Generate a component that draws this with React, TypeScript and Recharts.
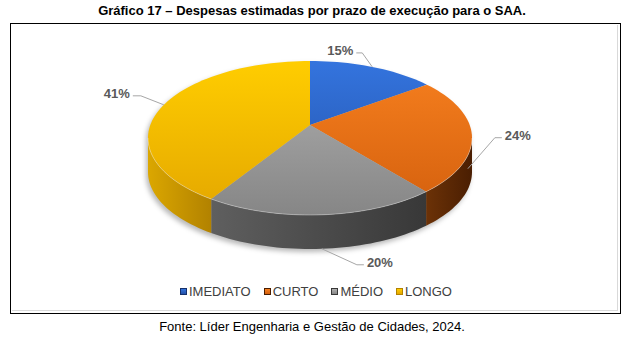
import React from "react";
import { PieChart, Pie, Cell, Legend } from "recharts";

// dados do gráfico
const categories = ["IMEDIATO", "CURTO", "MÉDIO", "LONGO"];
const shares = [15, 24, 20, 41];
const percentLabels = ["15%", "24%", "20%", "41%"];

const data = categories.map((name, i) => ({ name, value: shares[i] }));

const COLORS = ["#2e6bd3", "#f2771a", "#a2a2a2", "#fcc400"];
// gradiente do topo (cima -> baixo)
const TOP_GRAD = [
  ["#3474de", "#2250a6"],
  ["#f7801f", "#d35f0d"],
  ["#b0b0b0", "#868686"],
  ["#ffcd00", "#e4a700"],
];
// gradiente das laterais (esquerda -> direita)
const WALL_GRAD = [
  ["#1d3f80", "#16306a"],
  ["#6c3207", "#4a1e02"],
  ["#5f5f5f", "#383838"],
  ["#dba700", "#b28200"],
];

// geometria do "3D"
const CX = 310;
const CY = 138;
const RX = 162;
const RY = 77;
const APEX = 13;
const DEPTH = 34;

// rótulos: queda até a lateral, cotovelo e fim da linha (relativos à âncora)
const LABEL_LAYOUT = [
  { drop: 0, start: [0, 0], elbow: [-10, -14], end: [-16, -14], side: "left" },
  { drop: 1, start: [-4, 0], elbow: [23, -31], end: [30, -31], side: "right" },
  { drop: 1, start: [0, 0], elbow: [35, 16], end: [42, 16], side: "right" },
  { drop: 0, start: [0, 0], elbow: [-23, -9], end: [-31, -9], side: "left" },
];

const FONT = '"Liberation Sans", Arial, Helvetica, sans-serif';

// ângulo do pie -> ângulo paramétrico na borda da elipse (perspectiva)
function rimPhi(deg: number) {
  const r = (deg * Math.PI) / 180;
  const k = RY / RX;
  const dx = Math.cos(r);
  const dy = -k * Math.sin(r);
  const a = (dx * dx) / (RX * RX) + (dy * dy) / (RY * RY);
  const b = (-2 * dy * APEX) / (RY * RY);
  const c = (APEX * APEX) / (RY * RY) - 1;
  const t = (-b + Math.sqrt(b * b - 4 * a * c)) / (2 * a);
  const px = t * dx;
  const py = -APEX + t * dy;
  let phi = (Math.atan2(-py / RY, px / RX) * 180) / Math.PI;
  phi += 360 * Math.round((deg - phi) / 360);
  return phi;
}

function pt(phi: number, extra = 0): [number, number] {
  const r = (phi * Math.PI) / 180;
  return [CX + RX * Math.cos(r), CY - RY * Math.sin(r) + extra];
}

function arcPts(from: number, to: number, extra = 0) {
  const n = Math.max(2, Math.ceil(Math.abs(from - to) / 2));
  const out: [number, number][] = [];
  for (let i = 0; i <= n; i++) out.push(pt(from + ((to - from) * i) / n, extra));
  return out;
}

const toPath = (pts: [number, number][]) =>
  pts.map((p, i) => `${i ? "L" : "M"}${p[0].toFixed(2)},${p[1].toFixed(2)}`).join(" ");

function SliceLabel(props: any) {
  const { index, startAngle, endAngle } = props;
  const phiS = rimPhi(startAngle);
  const phiE = rimPhi(endAngle);
  const apex: [number, number] = [CX, CY - APEX];

  // lateral visível (metade da frente)
  const lo = Math.max(phiE, -180);
  const hi = Math.min(phiS, 0);
  let wall = null;
  let rim = null;
  if (lo < hi) {
    const topEdge = arcPts(hi, lo);
    const bottomEdge = arcPts(lo, hi, DEPTH);
    wall = (
      <path d={toPath([...topEdge, ...bottomEdge]) + " Z"} fill={`url(#wall${index})`} />
    );
    rim = <path d={toPath(topEdge)} fill="none" stroke="rgba(255,255,255,0.35)" strokeWidth={1} />;
  }

  const top = toPath([apex, ...arcPts(phiS, phiE)]) + " Z";

  const lay = LABEL_LAYOUT[index];
  const phiM = rimPhi((startAngle + endAngle) / 2);
  const anchor = pt(phiM, lay.drop * DEPTH);
  const p0 = [anchor[0] + lay.start[0], anchor[1] + lay.start[1]];
  const p1 = [anchor[0] + lay.elbow[0], anchor[1] + lay.elbow[1]];
  const p2 = [anchor[0] + lay.end[0], anchor[1] + lay.end[1]];
  const left = lay.side === "left";

  return (
    <g>
      {index === 0 && (
        <path
          d={
            toPath([...arcPts(0, 180), ...arcPts(180, 360, DEPTH)]) + " Z"
          }
          transform="translate(-2,3)"
          fill="rgba(0,0,0,0.28)"
          filter="url(#pieShadow)"
        />
      )}
      {wall}
      <path d={top} fill={`url(#top${index})`} />
      {rim}
      <polyline
        points={`${p0[0]},${p0[1]} ${p1[0]},${p1[1]} ${p2[0]},${p2[1]}`}
        fill="none"
        stroke="#a6a6a6"
        strokeWidth={1}
      />
      <text
        x={left ? p2[0] - 3 : p2[0] + 3}
        y={p2[1] + 2}
        textAnchor={left ? "end" : "start"}
        fontFamily={FONT}
        fontSize={13}
        fontWeight="bold"
        fill="#595959"
      >
        {percentLabels[index]}
      </text>
    </g>
  );
}

function LegendContent(props: any) {
  // mantém a ordem original das categorias
  const items = [...(props.payload || [])].sort(
    (a: any, b: any) => categories.indexOf(a.value) - categories.indexOf(b.value)
  );
  return (
    <div
      style={{
        display: "flex",
        justifyContent: "center",
        gap: 13,
        fontFamily: FONT,
        fontSize: 13,
        color: "#404040",
      }}
    >
      {items.map((it: any) => {
        const i = categories.indexOf(it.value);
        return (
          <div key={it.value} style={{ display: "flex", alignItems: "center" }}>
            <span
              style={{
                display: "inline-block",
                width: 5,
                height: 5,
                marginRight: 2,
                background: `linear-gradient(${TOP_GRAD[i][0]}, ${TOP_GRAD[i][1]})`,
                border: `1px solid ${WALL_GRAD[i][1]}`,
              }}
            />
            <span>{it.value}</span>
          </div>
        );
      })}
    </div>
  );
}

export default function App() {
  return (
    <div style={{ position: "relative", width: 632, height: 354, background: "#fff", fontFamily: FONT }}>
      <style>{`body{margin:0}`}</style>
      <div
        style={{
          position: "absolute",
          top: 3,
          left: 0,
          width: 624,
          textAlign: "center",
          fontWeight: "bold",
          fontSize: 13,
          color: "#000",
        }}
      >
        Gráfico 17 – Despesas estimadas por prazo de execução para o SAA.
      </div>
      {/* moldura */}
      <div
        style={{
          position: "absolute",
          left: 10,
          top: 23,
          width: 609,
          height: 289,
          border: "1px solid #000",
        }}
      >
        <div
          style={{
            position: "absolute",
            left: 1,
            top: 1,
            right: 2,
            bottom: 2,
            borderRight: "1px solid #d9d9d9",
            borderBottom: "1px solid #d9d9d9",
          }}
        />
      </div>
      <div style={{ position: "absolute", left: 0, top: 0 }}>
        <PieChart width={632} height={354} margin={{ top: 0, right: 0, bottom: 0, left: 0 }}>
          <defs>
            {TOP_GRAD.map((g, i) => (
              <linearGradient key={`t${i}`} id={`top${i}`} gradientUnits="userSpaceOnUse" x1={0} y1={CY - RY} x2={0} y2={CY + RY}>
                <stop offset="0%" stopColor={g[0]} />
                <stop offset="100%" stopColor={g[1]} />
              </linearGradient>
            ))}
            {WALL_GRAD.map((g, i) => (
              <linearGradient key={`w${i}`} id={`wall${i}`} x1="0" y1="0" x2="1" y2="0">
                <stop offset="0%" stopColor={g[0]} />
                <stop offset="100%" stopColor={g[1]} />
              </linearGradient>
            ))}
            <filter id="pieShadow" x="-10%" y="-10%" width="120%" height="130%">
              <feGaussianBlur stdDeviation={2.5} />
            </filter>
          </defs>
          <Pie
            data={data}
            dataKey="value"
            nameKey="name"
            cx={CX}
            cy={CY}
            outerRadius={RX}
            startAngle={90}
            endAngle={-270}
            stroke="none"
            fillOpacity={0}
            labelLine={false}
            label={SliceLabel}
            isAnimationActive={false}
          >
            {data.map((d, i) => (
              <Cell key={d.name} fill={COLORS[i]} />
            ))}
          </Pie>
          <Legend
            verticalAlign="bottom"
            content={LegendContent}
            wrapperStyle={{ position: "absolute", top: 284, left: 0, width: 632, bottom: "auto" }}
          />
        </PieChart>
      </div>
      <div
        style={{
          position: "absolute",
          top: 319,
          left: 0,
          width: 624,
          textAlign: "center",
          fontSize: 13,
          color: "#000",
        }}
      >
        Fonte: Líder Engenharia e Gestão de Cidades, 2024.
      </div>
    </div>
  );
}
